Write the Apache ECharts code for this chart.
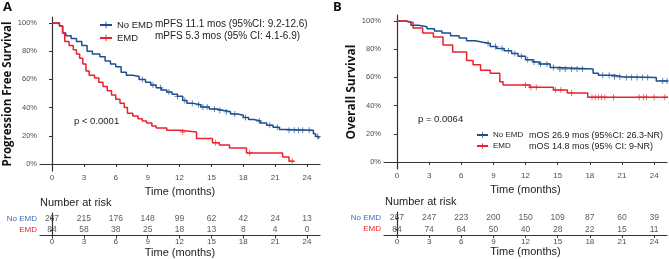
<!DOCTYPE html>
<html>
<head>
<meta charset="utf-8">
<script src="https://cdn.jsdelivr.net/npm/echarts@6/dist/echarts.min.js"></script>
<style>
  html, body { margin: 0; padding: 0; background: #fff; }
  #chart { width: 669px; height: 259px; }
</style>
</head>
<body>
<div id="chart"></div>
<script>
// time ticks shared by both panels
const timeTicks = [0, 3, 6, 9, 12, 15, 18, 21, 24];
const pctTicks = [0, 20, 40, 60, 80, 100];
const groups = ['No EMD', 'EMD'];

// panel A – progression free survival, [month, %] step points
const pfsNoEmd = [[0,100],[0.7,98],[1.0,93],[1.3,91],[1.8,89],[2.3,87],[2.8,84],[3.3,80],[3.8,78],[4.5,76],[5.0,73],[5.5,71],[6.0,69],[6.5,65],[7.0,63],[7.6,62],[8.2,60],[8.8,58],[9.3,56],[9.8,54],[10.3,52.5],[10.8,51],[11.3,49.5],[11.8,48],[12.3,45],[12.7,43],[13.3,42],[14.0,40.5],[14.8,39],[15.5,38],[16.2,37],[16.8,35.5],[17.5,34.5],[18.0,33],[18.5,31.5],[19.0,30.5],[19.6,29],[20.2,27.5],[20.8,26],[21.4,24.5],[22.0,24],[24.4,24],[24.6,21.5],[24.8,19.5],[25.1,18]];
const pfsEmd = [[0,100],[0.7,98],[1.0,93],[1.2,87],[1.6,84],[2.0,81],[2.3,78],[2.6,75],[2.9,71],[3.2,66],[3.5,63],[4.0,61],[4.4,58],[4.8,55],[5.2,52],[5.6,49],[6.0,46],[6.4,43],[6.8,40],[7.1,36],[7.6,34],[8.1,32],[8.5,30.5],[8.9,29],[9.4,27],[9.8,25.5],[10.8,24],[12.0,22.7],[13.6,18],[15.1,15],[15.75,13.5],[16.7,11.3],[18.3,7.8],[21.7,5],[22.3,2],[22.8,2]];
const pfsNoEmdCensor = [8.5,9.5,10.2,11,11.8,12.5,13.2,13.8,14.2,14.6,15.3,15.8,16.4,17.2,18.2,19.5,20.5,21.2,22.3,22.8,23.2,23.6,24.2,25.0];
const pfsEmdCensor = [12.3,15.4,18.6,22.6];

// panel B – overall survival
const osNoEmd = [[0,100],[0.8,99],[1.3,97],[2.0,96],[2.8,94.5],[3.5,93],[4.2,91.5],[5.0,89.5],[5.8,88],[6.5,86],[7.3,85],[8.0,84],[8.7,82],[9.3,80.5],[10.0,79],[10.7,77],[11.3,75],[12.0,72.5],[12.7,71],[13.3,69.5],[14.3,67],[15.0,66],[18.3,63],[18.8,61.5],[20.3,60.5],[21.0,60],[24.2,57.5],[25.3,57.5]];
const osEmd = [[0,100],[0.9,99],[1.5,95],[2.4,91.5],[3.4,88.7],[4.3,83],[5.2,78],[6.5,72],[7.1,69],[7.8,65],[8.7,63],[9.6,57],[9.9,54.6],[12.4,53],[14.6,51],[15.9,49],[17.8,46],[25.3,46]];
const osNoEmdCensor = [8.5,9.2,9.8,10.4,11,11.6,12.2,12.8,13.4,14,14.6,15.2,15.7,16.3,16.8,17.3,19.2,19.8,20.3,20.8,21.4,21.9,22.4,22.9,23.4,24.8,25.2];
const osEmdCensor = [12.0,12.5,13.0,14.8,15.3,16.3,18.2,18.5,18.8,19.1,19.4,20.2,22.6,23.0,23.3,24.0,25.0];

// numbers at risk at each time tick
const pfsRiskNoEmd = [267, 215, 176, 148, 99, 62, 42, 24, 13];
const pfsRiskEmd = [84, 58, 38, 25, 18, 13, 8, 4, 0];
const osRiskNoEmd = [267, 247, 223, 200, 150, 109, 87, 60, 39];
const osRiskEmd = [84, 74, 64, 50, 40, 28, 22, 15, 11];

const BLUE = '#1d4f91';
const RED = '#e8232b';
const BLUE_LBL = '#3a6db5';
const AXIS = '#333333';
const TICK_TXT = '#4d4d4d';
const FONT = '"Liberation Sans", Arial, sans-serif';
const CROSS = 'path://M0,4.3H10V5.7H0Z M4.3,0H5.7V10H4.3Z';

// survival value of a step curve at time t
function stepAt(curve, t) {
  let v = curve[0][1];
  for (const p of curve) { if (p[0] <= t) v = p[1]; }
  return v;
}

const chart = echarts.init(document.getElementById('chart'), null, { renderer: 'canvas' });

function xAxisFor(grid, min, max, nameGap) {
  return {
    gridIndex: grid, type: 'value', min: min, max: max,
    name: 'Time (months)', nameLocation: 'middle', nameGap: nameGap,
    nameTextStyle: { fontFamily: FONT, fontSize: 11, color: '#222' },
    axisLine: { show: true, lineStyle: { color: AXIS, width: 1.2 } },
    axisTick: { show: true, length: 3, lineStyle: { color: AXIS }, customValues: timeTicks },
    axisLabel: { fontFamily: FONT, fontSize: 8, color: TICK_TXT, margin: 2.5, customValues: timeTicks },
    splitLine: { show: false }
  };
}

function yPctAxis(grid, name, size) {
  return {
    gridIndex: grid, type: 'value', min: -5, max: 104.3,
    name: name, nameLocation: 'middle', nameGap: 24,
    nameTextStyle: { fontFamily: '"Open Sans", "Noto Sans", sans-serif', fontWeight: 'bold', fontSize: size, color: '#111' },
    axisLine: { show: true, lineStyle: { color: AXIS, width: 1.2 } },
    axisTick: { show: true, length: 3, lineStyle: { color: AXIS }, customValues: pctTicks },
    axisLabel: { fontFamily: FONT, fontSize: 7.5, color: TICK_TXT, margin: 3, formatter: '{value}%', customValues: pctTicks },
    splitLine: { show: false }
  };
}

function yRiskAxis(grid) {
  return {
    gridIndex: grid, type: 'category', data: ['EMD', 'No EMD'],
    axisLine: { show: true, lineStyle: { color: AXIS, width: 1.2 } },
    axisTick: { show: true, length: 2, alignWithLabel: true, interval: 0, lineStyle: { color: AXIS } },
    axisLabel: {
      interval: 0, fontFamily: FONT, fontSize: 8, margin: 3,
      formatter: v => v === 'EMD' ? '{r|EMD}' : '{b|No EMD}',
      rich: { r: { color: RED, fontSize: 8, fontFamily: FONT }, b: { color: BLUE_LBL, fontSize: 8, fontFamily: FONT } }
    }
  };
}

function stepSeries(name, data, color, xi) {
  return {
    name: name, type: 'line', step: 'end', xAxisIndex: xi, yAxisIndex: xi,
    data: data, symbol: CROSS, symbolSize: 7, showSymbol: false,
    lineStyle: { color: color, width: 1.5 },
    itemStyle: { color: color }, z: 3, silent: true
  };
}

function censorSeries(curve, times, color, xi) {
  return {
    type: 'scatter', xAxisIndex: xi, yAxisIndex: xi,
    data: times.map(t => [t, stepAt(curve, t)]),
    symbol: CROSS, symbolSize: 6, itemStyle: { color: color }, z: 4, silent: true
  };
}

function riskSeries(values, cat, xi) {
  return {
    type: 'scatter', xAxisIndex: xi, yAxisIndex: xi, symbolSize: 0,
    data: values.map((v, i) => [timeTicks[i], cat, v]),
    label: { show: true, position: 'inside', formatter: p => p.data[2], fontFamily: FONT, fontSize: 8.5, color: '#333' },
    silent: true
  };
}

const option = {
  animation: false,
  backgroundColor: '#fff',
  grid: [
    { left: 40, top: 17, width: 280, height: 154 },
    { left: 40, top: 213, width: 280, height: 24 },
    { left: 384, top: 15, width: 283, height: 154 },
    { left: 384, top: 212, width: 283, height: 23 }
  ],
  xAxis: [
    xAxisFor(0, -1.13, 25.22, 10.5),
    xAxisFor(1, -1.13, 25.22, 10),
    xAxisFor(2, -1.21, 25.2, 10.5),
    xAxisFor(3, -1.21, 25.2, 10)
  ],
  yAxis: [
    yPctAxis(0, 'Progression Free Survival', 11.5),
    yRiskAxis(1),
    yPctAxis(2, 'Overall Survival', 12),
    yRiskAxis(3)
  ],
  legend: [
    {
      left: 99, top: 20, padding: 0, orient: 'vertical', itemGap: 3, itemWidth: 12, itemHeight: 8,
      data: groups, textStyle: { fontFamily: FONT, fontSize: 9.5, color: '#222' }, selectedMode: false
    },
    {
      left: 476, top: 131, padding: 0, orient: 'vertical', itemGap: 3, itemWidth: 11, itemHeight: 7,
      data: groups, textStyle: { fontFamily: FONT, fontSize: 8, color: '#222' }, selectedMode: false
    }
  ],
  series: [
    stepSeries('No EMD', pfsNoEmd, BLUE, 0),
    stepSeries('EMD', pfsEmd, RED, 0),
    censorSeries(pfsNoEmd, pfsNoEmdCensor, BLUE, 0),
    censorSeries(pfsEmd, pfsEmdCensor, RED, 0),
    riskSeries(pfsRiskNoEmd, 'No EMD', 1),
    riskSeries(pfsRiskEmd, 'EMD', 1),
    stepSeries('No EMD', osNoEmd, BLUE, 2),
    stepSeries('EMD', osEmd, RED, 2),
    censorSeries(osNoEmd, osNoEmdCensor, BLUE, 2),
    censorSeries(osEmd, osEmdCensor, RED, 2),
    riskSeries(osRiskNoEmd, 'No EMD', 3),
    riskSeries(osRiskEmd, 'EMD', 3)
  ],
  graphic: [
    { type: 'text', left: 3, top: 1, style: { text: 'A', font: 'bold 13px "Open Sans", sans-serif', fill: '#111' } },
    { type: 'text', left: 333, top: 1, style: { text: 'B', font: 'bold 13px "Open Sans", sans-serif', fill: '#111' } },
    { type: 'text', left: 155, top: 19, style: { text: 'mPFS 11.1 mos (95%CI: 9.2-12.6)', font: '10px ' + FONT, fill: '#222' } },
    { type: 'text', left: 155, top: 31, style: { text: 'mPFS 5.3 mos (95% CI: 4.1-6.9)', font: '10px ' + FONT, fill: '#222' } },
    { type: 'text', left: 74, top: 116, style: { text: 'p < 0.0001', font: '9.5px ' + FONT, fill: '#222' } },
    { type: 'text', left: 418, top: 114, style: { text: 'p = 0.0064', font: '9.5px ' + FONT, fill: '#222' } },
    { type: 'text', left: 529, top: 131, style: { text: 'mOS 26.9 mos (95%CI: 26.3-NR)', font: '9px ' + FONT, fill: '#222' } },
    { type: 'text', left: 529, top: 142, style: { text: 'mOS 14.8 mos (95% CI: 9-NR)', font: '9px ' + FONT, fill: '#222' } },
    { type: 'text', left: 40, top: 197, style: { text: 'Number at risk', font: '11px ' + FONT, fill: '#222' } },
    { type: 'text', left: 385, top: 196, style: { text: 'Number at risk', font: '11px ' + FONT, fill: '#222' } }
  ]
};

chart.setOption(option);
</script>
</body>
</html>
